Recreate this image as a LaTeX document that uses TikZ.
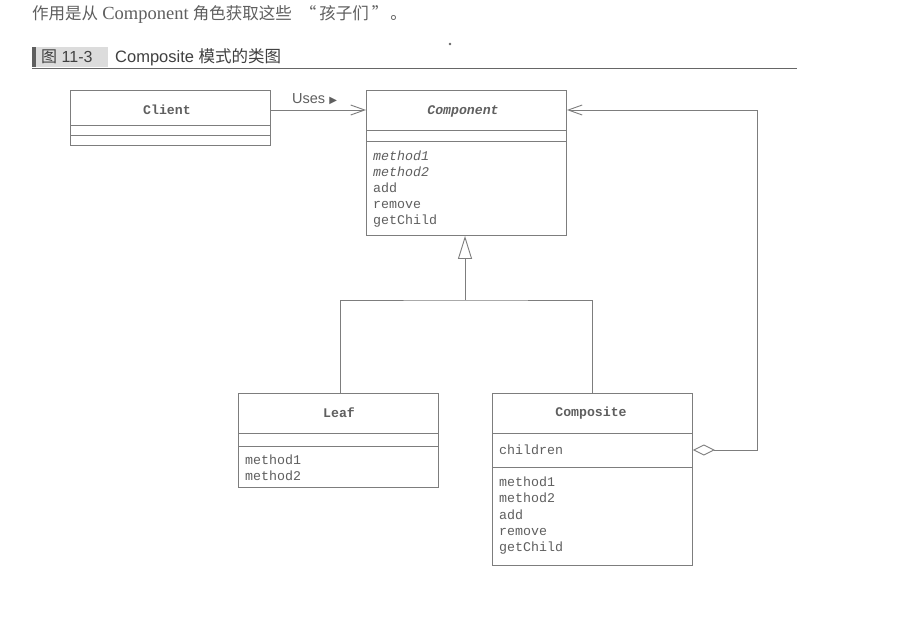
\documentclass[tikz,border=0pt]{standalone}
\usepackage{fontspec}
\setmainfont{Liberation Serif}
\setsansfont{Liberation Sans}
\setmonofont{Liberation Mono}
\newfontfamily\cjk{Noto Sans CJK SC}
\newfontfamily\symf{DejaVu Sans}
\usetikzlibrary{arrows.meta}
\definecolor{linec}{RGB}{125,125,125}
\definecolor{txtc}{RGB}{95,95,95}
\definecolor{capbox}{RGB}{220,220,220}
\tikzset{
  umlbox/.style={draw=linec, line width=0.9pt, anchor=north west, inner sep=0pt, minimum width=200pt, fill=white},
  sep/.style={draw=linec, line width=0.9pt},
  conn/.style={draw=linec, line width=0.9pt},
  cname/.style={font=\fontsize{13.2}{13.2}\selectfont\ttfamily\bfseries, text=txtc, inner sep=0pt},
  meth/.style={font=\fontsize{13.3}{13.3}\selectfont\ttfamily, text=txtc, anchor=west, inner sep=0pt},
}
\begin{document}
\begin{tikzpicture}[x=1pt,y=-1pt]
\useasboundingbox[fill=white] (0,0) rectangle (915,629);
% top text
\node[anchor=west, inner sep=0pt, text=txtc, font=\fontsize{16.5}{16.5}\selectfont] (intro) at (32,14)
  {{\cjk 作用是从} {\fontsize{18.5}{18.5}\selectfont Component} {\cjk 角色获取这些\hspace{8pt}“\hspace{3pt}孩子们\hspace{3pt}”\hspace{2pt}。}};
% caption
\fill[capbox] (36,47) rectangle (108,67);
\fill[txtc] (32,47) rectangle (36,67);
\node[anchor=west, inner sep=0pt, text=black!75, font=\fontsize{16}{16}\selectfont\sffamily] (fignum) at (41,57) {{\cjk 图} 11-3};
\node[anchor=west, inner sep=0pt, text=black!75, font=\fontsize{16.5}{16.5}\selectfont\sffamily] (figcap) at (115,57) {Composite {\cjk 模式的类图}};
\draw[black!60, line width=1.2pt] (32,68.5) -- (797,68.5);
\fill[black!60] (450,44) circle (1.3pt);

% Client
\node[umlbox, minimum height=55pt] (client) at (70,90) {};
\draw[sep] (70,125) -- (270,125);
\draw[sep] (70,135) -- (270,135);
\node[cname] (clientn) at (167,110) {Client};

% Component
\node[umlbox, minimum height=145pt] (comp) at (366,90) {};
\draw[sep] (366,130) -- (566,130);
\draw[sep] (366,141) -- (566,141);
\node[cname, font=\fontsize{13.2}{13.2}\selectfont\ttfamily\bfseries\itshape] (compn) at (463,111) {Component};
\node[meth, font=\fontsize{13.3}{13.3}\selectfont\ttfamily\itshape] (cm1) at (373,156) {method1};
\node[meth, font=\fontsize{13.3}{13.3}\selectfont\ttfamily\itshape] (cm2) at (373,172) {method2};
\node[meth] (cm3) at (373,188) {add};
\node[meth] (cm4) at (373,205) {remove};
\node[meth] (cm5) at (373,221) {getChild};

% Leaf
\node[umlbox, minimum height=94pt] (leaf) at (238,393) {};
\draw[sep] (238,433) -- (438,433);
\draw[sep] (238,446) -- (438,446);
\node[cname] (leafn) at (339,413) {Leaf};
\node[meth] (lm1) at (245,460) {method1};
\node[meth] (lm2) at (245,476) {method2};

% Composite
\node[umlbox, minimum height=172pt] (compo) at (492,393) {};
\draw[sep] (492,433) -- (692,433);
\draw[sep] (492,467) -- (692,467);
\node[cname] (compon) at (591,413) {Composite};
\node[meth] (ch) at (499,450) {children};
\node[meth] (om1) at (499,482) {method1};
\node[meth] (om2) at (499,498) {method2};
\node[meth] (om3) at (499,515) {add};
\node[meth] (om4) at (499,532) {remove};
\node[meth] (om5) at (499,548) {getChild};

% Uses association
\draw[conn, -{Straight Barb[length=14pt,width=10pt]}] (client.east |- 0,110) -- (comp.west |- 0,110);
\node[anchor=west, inner sep=0pt, text=txtc, font=\fontsize{14.5}{14.5}\selectfont\sffamily] (uses) at (292,99) {Uses {\symf\fontsize{10}{10}\selectfont ▶}};

% generalization
\coordinate (gj) at (465,300);
\draw[conn, -{Triangle[open,length=23pt,width=14pt]}] (gj) -- (comp.south -| gj);
\draw[conn] (leaf.north -| 340,0) |- (gj) -| (compo.north -| 592,0);

% aggregation
\coordinate (ag1) at (757,450);
\coordinate (ag2) at (757,110);
\draw[conn, {Diamond[open,length=22pt,width=11pt]}-{Straight Barb[length=14pt,width=10pt]}] (compo.east |- 0,450) -- (ag1) -- (ag2) -- (comp.east |- 0,110);
\end{tikzpicture}
\end{document}
